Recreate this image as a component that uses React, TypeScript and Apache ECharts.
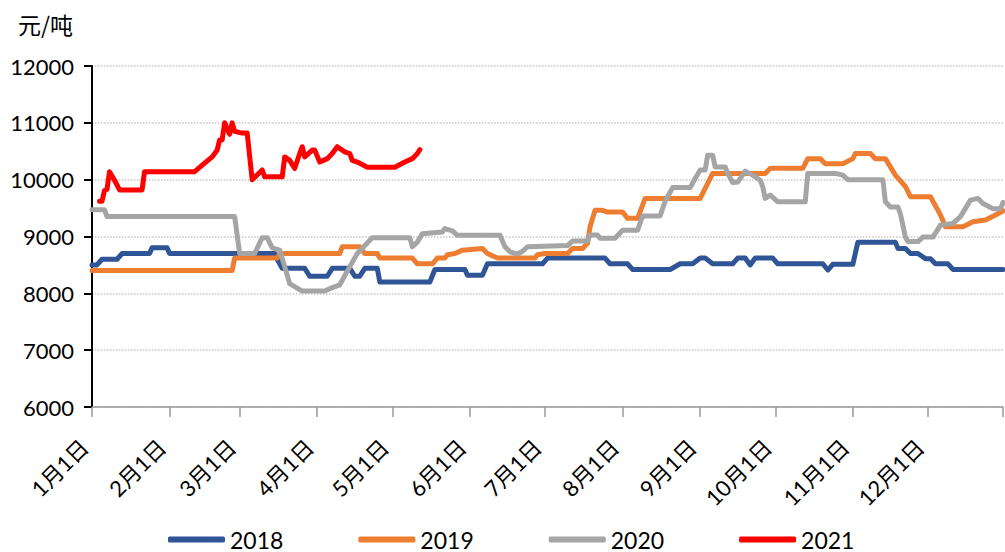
import React, { useEffect, useRef } from "react";
import * as echarts from "echarts";

// Tick labels (month starts) and month lengths used to build the daily category axis
const monthLabels = ["1月1日", "2月1日", "3月1日", "4月1日", "5月1日", "6月1日", "7月1日", "8月1日", "9月1日", "10月1日", "11月1日", "12月1日"];
const daysInMonth = [31, 28, 31, 30, 31, 30, 31, 31, 30, 31, 30, 31];
const seriesNames = ["2018", "2019", "2020", "2021"];
const unitLabel = "元/吨";

// [day-of-year index, price]
const s2018: [number, number][] = [
  [0, 8500], [2, 8500], [4, 8600], [10, 8600], [12, 8700], [23, 8700], [24, 8800], [30, 8800], [31, 8700],
  [73, 8700], [74, 8600], [76, 8440], [85, 8440], [87, 8300], [94, 8300], [96, 8440], [103, 8440], [105, 8300],
  [107, 8300], [109, 8440], [114, 8440], [115, 8200], [135, 8200], [137, 8420], [149, 8420], [150, 8320],
  [156, 8320], [158, 8520], [180, 8520], [182, 8620], [205, 8620], [207, 8520], [214, 8520], [216, 8420],
  [231, 8420], [235, 8520], [240, 8520], [243, 8620], [245, 8620], [248, 8520], [256, 8520], [258, 8620],
  [261, 8620], [263, 8500], [265, 8620], [272, 8620], [274, 8520], [292, 8520], [294, 8410], [296, 8510],
  [304, 8510], [306, 8900], [321, 8900], [322, 8790], [325, 8790], [327, 8700], [330, 8700], [333, 8610],
  [335, 8610], [337, 8520], [342, 8520], [344, 8420], [364, 8420],
];

const s2019: [number, number][] = [
  [0, 8400], [56, 8400], [57, 8620], [74, 8620], [75, 8700], [99, 8700], [100, 8820], [107, 8820], [109, 8700],
  [114, 8700], [115, 8620], [128, 8620], [130, 8520], [136, 8520], [138, 8620], [141, 8620], [142, 8680],
  [145, 8700], [148, 8760], [156, 8790], [158, 8700], [162, 8620], [177, 8620], [178, 8680], [181, 8700],
  [190, 8700], [192, 8790], [196, 8790], [198, 8880], [199, 9170], [201, 9460], [204, 9460], [206, 9430],
  [212, 9430], [214, 9320], [218, 9320], [221, 9670], [243, 9670], [248, 10110], [269, 10110], [271, 10200],
  [284, 10200], [286, 10370], [291, 10370], [293, 10280], [300, 10280], [304, 10370], [305, 10460], [311, 10460],
  [313, 10370], [317, 10370], [321, 10080], [325, 9880], [327, 9700], [335, 9700], [339, 9380], [341, 9170],
  [348, 9170], [352, 9260], [357, 9290], [361, 9380], [364, 9450],
];

const s2020: [number, number][] = [
  [0, 9470], [5, 9470], [6, 9350], [57, 9350], [59, 8700], [65, 8700], [68, 8980], [70, 8980], [72, 8800],
  [75, 8760], [77, 8470], [79, 8170], [84, 8040], [93, 8040], [96, 8100], [99, 8150], [103, 8470], [106, 8700],
  [112, 8980], [127, 8980], [128, 8820], [130, 8900], [132, 9050], [140, 9080], [141, 9140], [144, 9100],
  [146, 9020], [163, 9020], [165, 8820], [167, 8730], [170, 8690], [172, 8740], [174, 8820], [190, 8840],
  [192, 8920], [198, 8920], [199, 9025], [202, 9025], [203, 8970], [209, 8970], [212, 9110], [218, 9110],
  [220, 9360], [227, 9360], [229, 9620], [232, 9860], [239, 9860], [241, 10020], [243, 10170], [245, 10170],
  [246, 10430], [248, 10430], [249, 10225], [253, 10225], [254, 10110], [256, 9950], [258, 9960], [259, 10020],
  [261, 10150], [264, 10080], [267, 9990], [268, 9875], [269, 9670], [271, 9730], [274, 9610], [285, 9610],
  [286, 10110], [297, 10110], [300, 10080], [302, 10000], [316, 10000], [317, 9610], [319, 9520], [322, 9520],
  [323, 9400], [325, 8990], [326, 8910], [330, 8910], [332, 8990], [336, 8990], [339, 9200], [344, 9230],
  [347, 9350], [351, 9640], [354, 9670], [356, 9580], [360, 9490], [363, 9490], [364, 9600],
];

const s2021: [number, number][] = [
  [3, 9620], [4, 9620], [5, 9810], [6, 9830], [7, 10140], [9, 9990], [11, 9820], [20, 9820], [21, 10140],
  [41, 10140], [45, 10290], [48, 10400], [50, 10520], [51, 10700], [52, 10700], [53, 11000], [55, 10800],
  [56, 11000], [57, 10850], [60, 10820], [62, 10820], [64, 10000], [68, 10170], [69, 10050], [76, 10050],
  [77, 10400], [79, 10340], [81, 10200], [83, 10460], [84, 10580], [85, 10400], [88, 10520], [89, 10520],
  [91, 10310], [94, 10370], [96, 10460], [98, 10580], [101, 10490], [103, 10460], [104, 10340], [106, 10310],
  [110, 10220], [121, 10220], [125, 10310], [128, 10370], [130, 10460], [131, 10530],
];

const yMin = 6000;
const yMax = 12000;
const yStep = 1000;

const colors = ["#2F5597", "#ED7D31", "#A5A5A5", "#FF0000"];

function buildCategories(): string[] {
  const cats: string[] = [];
  daysInMonth.forEach((n, m) => {
    for (let d = 1; d <= n; d++) cats.push(`${m + 1}月${d}日`);
  });
  return cats;
}

export default function App() {
  const ref = useRef<HTMLDivElement>(null);
  useEffect(() => {
    document.body.style.margin = "0";
    if (!ref.current) return;
    const chart = echarts.init(ref.current, null, { renderer: "svg" });
    const categories = buildCategories();
    const lastIdx = categories.length - 1;
    const allData = [s2018, s2019, s2020, s2021];
    chart.setOption({
      animation: false,
      backgroundColor: "#ffffff",
      color: colors,
      title: {
        text: unitLabel,
        left: 13,
        top: 7,
        textStyle: { fontSize: 23, fontWeight: "normal", color: "#000", fontFamily: "'Noto Sans CJK SC', sans-serif" },
      },
      grid: { left: 92, right: 2, top: 66, bottom: 145, outerBoundsMode: "none" },
      legend: {
        top: 528,
        left: 168,
        padding: 0,
        itemGap: 75,
        itemWidth: 57,
        itemHeight: 6,
        icon: "roundRect",
        data: seriesNames,
        textStyle: { fontSize: 23, lineHeight: 22, color: "#000", fontFamily: "Lato, 'Noto Sans', sans-serif" },
      },
      xAxis: {
        type: "category",
        boundaryGap: false,
        data: categories,
        axisLine: { lineStyle: { color: "#999", width: 1.5 } },
        axisTick: {
          show: true,
          length: 10,
          lineStyle: { color: "#999", width: 1.5 },
          interval: (i: number, v: string) => monthLabels.indexOf(v) >= 0 || i === lastIdx,
        },
        axisLabel: {
          interval: (_i: number, v: string) => monthLabels.indexOf(v) >= 0,
          rotate: 45,
          margin: 44,
          verticalAlign: "bottom",
          fontSize: 22,
          color: "#000",
          fontFamily: "Lato, 'Noto Sans CJK SC', sans-serif",
        },
        splitLine: { show: false },
      },
      yAxis: {
        type: "value",
        min: yMin,
        max: yMax,
        interval: yStep,
        axisLine: { show: true, lineStyle: { color: "#000", width: 2 } },
        axisTick: { show: true, length: 8, lineStyle: { color: "#000", width: 2 } },
        axisLabel: {
          fontSize: 22,
          color: "#000",
          margin: 18,
          fontFamily: "Lato, 'Noto Sans', sans-serif",
          formatter: (v: number) => String(v),
        },
        splitLine: { show: true, lineStyle: { color: "#c8c8c8", type: "dotted", width: 1.5 } },
      },
      series: seriesNames.map((name, i) => ({
        name,
        type: "line",
        data: allData[i],
        showSymbol: false,
        symbol: "none",
        lineStyle: { width: 5, color: colors[i], cap: "round", join: "round" },
        itemStyle: { color: colors[i] },
        z: 2 + i,
      })),
    });
    return () => chart.dispose();
  }, []);
  return <div ref={ref} style={{ width: 1005, height: 552 }} />;
}
